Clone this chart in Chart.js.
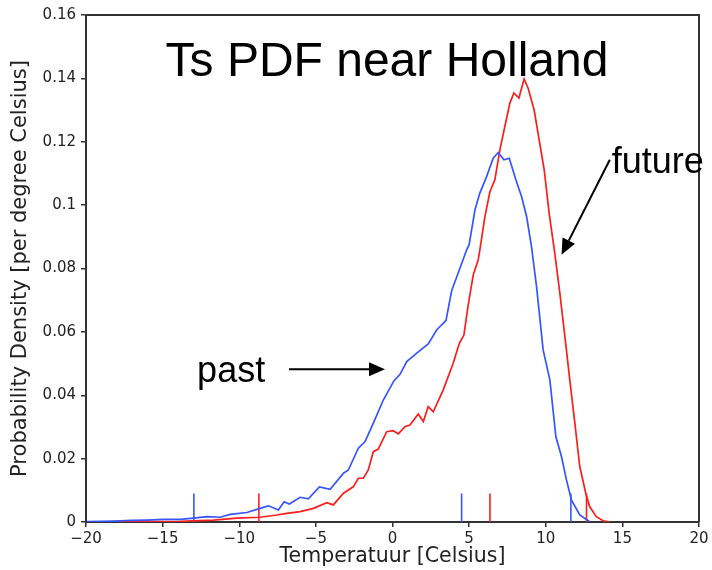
<!DOCTYPE html>
<html>
<head>
<meta charset="utf-8">
<script src="https://cdn.jsdelivr.net/npm/chart.js@4.4.1/dist/chart.umd.min.js"></script>
<style>
  html, body { margin: 0; padding: 0; background: #fff; }
  #wrap { width: 712px; height: 570px; position: relative; }
</style>
</head>
<body>
<div id="wrap"><canvas id="c"></canvas></div>
<script>
// ---- Data ----
const pastTemp = [-19.93, -18.2, -17.0, -16.02, -14.94, -13.85, -12.99, -12.11, -11.25, -10.59, -9.5, -8.64, -8.1, -7.45, -7.07, -6.73, -6.03, -5.49, -4.77, -4.07, -3.2, -2.88, -2.23, -1.79, -1.25, -0.6, 0.1, 0.49, 0.93, 1.58, 2.33, 2.88, 3.1, 3.49, 3.86, 4.4, 4.84, 5.0, 5.38, 5.7, 6.14, 6.57, 6.9, 7.27, 7.62, 8.05, 8.42, 8.75, 9.07, 9.4, 9.83, 10.27, 10.66, 11.03, 11.35, 11.68, 12.22, 12.87];
const pastDensity = [0.0001, 0.0003, 0.0005, 0.0006, 0.0008, 0.0008, 0.0012, 0.0017, 0.0015, 0.0024, 0.003, 0.0043, 0.0051, 0.0038, 0.0064, 0.0057, 0.0078, 0.0073, 0.0111, 0.0103, 0.0154, 0.0164, 0.0233, 0.0254, 0.0312, 0.0385, 0.0446, 0.0466, 0.0506, 0.0533, 0.0562, 0.0606, 0.0617, 0.0636, 0.073, 0.0801, 0.0859, 0.0875, 0.0985, 0.1038, 0.109, 0.1148, 0.1166, 0.1143, 0.1148, 0.108, 0.1027, 0.0964, 0.0869, 0.0743, 0.0543, 0.0448, 0.0269, 0.0206, 0.0133, 0.0069, 0.0022, 0.0001];

const futureTemp = [-18.3, -16.02, -13.85, -11.68, -10.16, -8.64, -7.55, -6.9, -6.03, -5.16, -4.29, -3.86, -3.2, -2.56, -2.23, -1.9, -1.58, -1.25, -0.93, -0.38, 0.05, 0.38, 0.81, 1.14, 1.68, 2.01, 2.33, 2.66, 3.31, 3.96, 4.36, 4.66, 4.94, 5.27, 5.59, 5.7, 6.03, 6.36, 6.68, 7.01, 7.33, 7.66, 7.92, 8.25, 8.42, 8.59, 8.85, 9.24, 9.57, 9.9, 10.22, 10.59, 10.92, 11.25, 11.57, 11.9, 12.22, 12.61, 12.87, 13.3, 13.74, 14.18];
const futureDensity = [0, 0.0001, 0.0002, 0.0006, 0.0012, 0.0015, 0.0022, 0.0027, 0.0033, 0.0043, 0.0061, 0.0054, 0.0091, 0.0111, 0.0138, 0.0138, 0.0164, 0.0222, 0.023, 0.0285, 0.0288, 0.0278, 0.0301, 0.0306, 0.0341, 0.0317, 0.0364, 0.0348, 0.0417, 0.0501, 0.0564, 0.059, 0.0685, 0.078, 0.0827, 0.0859, 0.0964, 0.1043, 0.108, 0.1175, 0.1248, 0.1322, 0.1354, 0.1338, 0.1369, 0.1398, 0.1369, 0.1301, 0.1206, 0.1111, 0.0975, 0.0848, 0.0722, 0.0585, 0.0448, 0.0312, 0.0175, 0.0091, 0.0048, 0.0017, 0.0004, 0];

// short vertical marks at the bottom (percentiles / mean)
const pastMarks = [-12.96, 4.51, 11.64];
const futureMarks = [-8.72, 6.36, 12.66];
const markHeight = 0.009;

const xTicks = [-20, -15, -10, -5, 0, 5, 10, 15, 20];
const yTicks = [0, 0.02, 0.04, 0.06, 0.08, 0.1, 0.12, 0.14, 0.16];

const chartTitle = 'Ts PDF near Holland';
const xTitle = 'Temperatuur [Celsius]';
const yTitle = 'Probability Density [per degree Celsius]';

// ---- Styles ----
const BLUE = 'rgb(55,85,255)';
const RED = 'rgb(250,30,30)';
const AXIS = '#333';

function pts(xs, ys) { return xs.map((x, i) => ({ x: x, y: ys[i] })); }

const datasets = [
  { label: 'past', data: pts(pastTemp, pastDensity), borderColor: BLUE, borderWidth: 1.7, pointRadius: 0, tension: 0, fill: false },
  { label: 'future', data: pts(futureTemp, futureDensity), borderColor: RED, borderWidth: 1.7, pointRadius: 0, tension: 0, fill: false }
];
pastMarks.forEach(t => datasets.push({ data: [{ x: t, y: 0 }, { x: t, y: markHeight }], borderColor: BLUE, borderWidth: 1.6, pointRadius: 0 }));
futureMarks.forEach(t => datasets.push({ data: [{ x: t, y: 0 }, { x: t, y: markHeight }], borderColor: RED, borderWidth: 1.6, pointRadius: 0 }));

// annotation anchors in data coordinates
const annotations = {
  title: { x: -0.36, y: 0.1408 },
  pastText: { x: -12.75, y: 0.0442 },
  futureText: { x: 14.3, y: 0.1102 },
  pastArrow: { from: { x: -6.75, y: 0.0482 }, to: { x: -0.49, y: 0.0482 } },
  futureArrow: { from: { x: 14.18, y: 0.1143 }, to: { x: 11.03, y: 0.0843 } }
};

function drawArrow(ctx, x1, y1, x2, y2) {
  const ang = Math.atan2(y2 - y1, x2 - x1);
  const len = 16, hw = 7;
  const bx = x2 - len * Math.cos(ang), by = y2 - len * Math.sin(ang);
  ctx.beginPath();
  ctx.moveTo(x1, y1);
  ctx.lineTo(bx, by);
  ctx.lineWidth = 2;
  ctx.strokeStyle = '#000';
  ctx.stroke();
  ctx.beginPath();
  ctx.moveTo(x2, y2);
  ctx.lineTo(bx + hw * Math.sin(ang), by - hw * Math.cos(ang));
  ctx.lineTo(bx - hw * Math.sin(ang), by + hw * Math.cos(ang));
  ctx.closePath();
  ctx.fillStyle = '#000';
  ctx.fill();
}

const decorPlugin = {
  id: 'decor',
  afterDatasetsDraw(chart) {
    const { ctx, chartArea: ca, scales: { x, y } } = chart;
    ctx.save();
    // frame top & right
    ctx.strokeStyle = AXIS;
    ctx.lineWidth = 2;
    ctx.beginPath();
    ctx.moveTo(ca.left, ca.top);
    ctx.lineTo(ca.right, ca.top);
    ctx.lineTo(ca.right, ca.bottom);
    ctx.stroke();

    ctx.fillStyle = '#000';
    ctx.textBaseline = 'alphabetic';
    // title
    ctx.font = '48px "Liberation Sans", Arial, sans-serif';
    ctx.textAlign = 'center';
    ctx.fillText(chartTitle, x.getPixelForValue(annotations.title.x), y.getPixelForValue(annotations.title.y));
    // past / future labels
    ctx.font = '36px "Liberation Sans", Arial, sans-serif';
    ctx.textAlign = 'left';
    ctx.fillText('past', x.getPixelForValue(annotations.pastText.x), y.getPixelForValue(annotations.pastText.y));
    ctx.fillText('future', x.getPixelForValue(annotations.futureText.x), y.getPixelForValue(annotations.futureText.y));
    // arrows
    const pa = annotations.pastArrow, fa = annotations.futureArrow;
    drawArrow(ctx, x.getPixelForValue(pa.from.x), y.getPixelForValue(pa.from.y), x.getPixelForValue(pa.to.x), y.getPixelForValue(pa.to.y));
    drawArrow(ctx, x.getPixelForValue(fa.from.x), y.getPixelForValue(fa.from.y), x.getPixelForValue(fa.to.x), y.getPixelForValue(fa.to.y));
    ctx.restore();
  }
};

new Chart(document.getElementById('c'), {
  type: 'line',
  data: { datasets: datasets },
  plugins: [decorPlugin],
  options: {
    responsive: true,
    maintainAspectRatio: false,
    animation: false,
    layout: { padding: { left: 0, top: 15, right: 13, bottom: 0 } },
    plugins: { legend: { display: false }, tooltip: { enabled: false }, title: { display: false } },
    elements: { line: { borderCapStyle: 'butt' } },
    scales: {
      x: {
        type: 'linear',
        min: -20, max: 20,
        afterBuildTicks: (axis) => { axis.ticks = xTicks.map(v => ({ value: v })); },
        afterFit: (axis) => { axis.height = 48; },
        ticks: {
          color: '#222', padding: 3, maxRotation: 0, autoSkip: false,
          font: { family: '"DejaVu Sans", sans-serif', size: 15 },
          callback: (v) => (v < 0 ? '\u2212' + Math.abs(v) : String(v))
        },
        grid: { display: true, drawOnChartArea: false, drawTicks: true, tickLength: 5, color: AXIS, lineWidth: 1.5 },
        border: { display: true, color: AXIS, width: 2 },
        title: { display: true, text: xTitle, color: '#222', font: { family: '"DejaVu Sans", sans-serif', size: 20.5 }, padding: { top: 0, bottom: 1 } }
      },
      y: {
        min: 0, max: 0.16,
        afterBuildTicks: (axis) => { axis.ticks = yTicks.map(v => ({ value: v })); },
        afterFit: (axis) => { axis.width = 86; },
        ticks: {
          color: '#222', padding: 5,
          font: { family: '"DejaVu Sans", sans-serif', size: 15 },
          callback: (v) => String(Number(Number(v).toFixed(2)))
        },
        grid: { display: true, drawOnChartArea: false, drawTicks: true, tickLength: 5, color: AXIS, lineWidth: 1.5 },
        border: { display: true, color: AXIS, width: 2 },
        title: { display: true, text: yTitle, color: '#222', font: { family: '"DejaVu Sans", sans-serif', size: 21 }, padding: { top: 8, bottom: 0 } }
      }
    }
  }
});
</script>
</body>
</html>
